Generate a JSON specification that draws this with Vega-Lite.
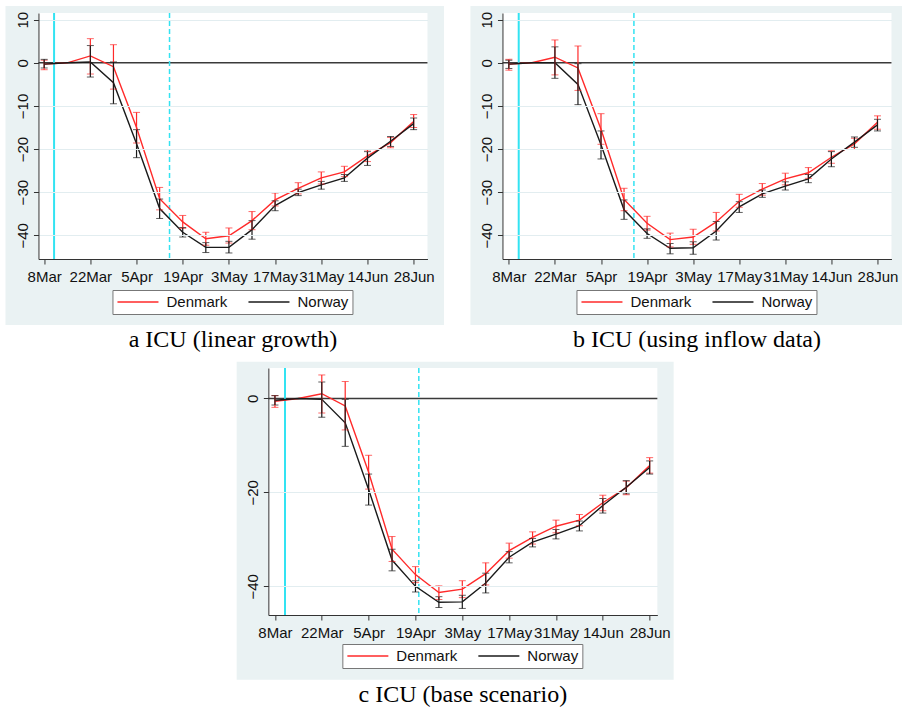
{
"$schema": "https://vega.github.io/schema/vega-lite/v6.json",
"padding": {"left": 5, "top": 6, "right": 0, "bottom": 0},
"background": "white",
"datasets": {
"a": [
{"country":"Denmark","date":"2020-03-08","value":-0.3,"lo":-1.6,"hi":0.6},
{"country":"Denmark","date":"2020-03-15","value":0,"lo":null,"hi":null},
{"country":"Denmark","date":"2020-03-22","value":1.6,"lo":-2.6,"hi":5.6},
{"country":"Denmark","date":"2020-03-29","value":-0.9,"lo":-6.1,"hi":4.2},
{"country":"Denmark","date":"2020-04-05","value":-15.0,"lo":-18.6,"hi":-11.5},
{"country":"Denmark","date":"2020-04-12","value":-31.5,"lo":-34.1,"hi":-28.9},
{"country":"Denmark","date":"2020-04-19","value":-36.9,"lo":-38.4,"hi":-35.4},
{"country":"Denmark","date":"2020-04-26","value":-40.8,"lo":-42.3,"hi":-39.3},
{"country":"Denmark","date":"2020-05-03","value":-40.1,"lo":-41.8,"hi":-38.3},
{"country":"Denmark","date":"2020-05-10","value":-36.6,"lo":-38.7,"hi":-34.5},
{"country":"Denmark","date":"2020-05-17","value":-31.8,"lo":-33.2,"hi":-30.2},
{"country":"Denmark","date":"2020-05-24","value":-29.1,"lo":-30.4,"hi":-27.8},
{"country":"Denmark","date":"2020-05-31","value":-26.7,"lo":-28.1,"hi":-25.3},
{"country":"Denmark","date":"2020-06-07","value":-25.3,"lo":-26.4,"hi":-24.0},
{"country":"Denmark","date":"2020-06-14","value":-21.6,"lo":-22.9,"hi":-20.2},
{"country":"Denmark","date":"2020-06-21","value":-18.5,"lo":-19.7,"hi":-17.3},
{"country":"Denmark","date":"2020-06-28","value":-13.6,"lo":-15.0,"hi":-12.0},
{"country":"Norway","date":"2020-03-08","value":-0.3,"lo":-1.2,"hi":0.8},
{"country":"Norway","date":"2020-03-15","value":0,"lo":null,"hi":null},
{"country":"Norway","date":"2020-03-22","value":0.2,"lo":-3.3,"hi":4.0},
{"country":"Norway","date":"2020-03-29","value":-4.6,"lo":-9.5,"hi":0.2},
{"country":"Norway","date":"2020-04-05","value":-18.8,"lo":-22.0,"hi":-15.5},
{"country":"Norway","date":"2020-04-12","value":-33.8,"lo":-36.1,"hi":-31.6},
{"country":"Norway","date":"2020-04-19","value":-39.3,"lo":-40.4,"hi":-38.2},
{"country":"Norway","date":"2020-04-26","value":-42.8,"lo":-44.0,"hi":-41.7},
{"country":"Norway","date":"2020-05-03","value":-42.8,"lo":-44.1,"hi":-41.4},
{"country":"Norway","date":"2020-05-10","value":-38.7,"lo":-40.9,"hi":-36.6},
{"country":"Norway","date":"2020-05-17","value":-33.1,"lo":-34.3,"hi":-32.0},
{"country":"Norway","date":"2020-05-24","value":-30.1,"lo":-30.8,"hi":-29.3},
{"country":"Norway","date":"2020-05-31","value":-28.3,"lo":-29.3,"hi":-27.5},
{"country":"Norway","date":"2020-06-07","value":-26.7,"lo":-27.5,"hi":-25.9},
{"country":"Norway","date":"2020-06-14","value":-22.1,"lo":-23.8,"hi":-20.6},
{"country":"Norway","date":"2020-06-21","value":-18.2,"lo":-19.4,"hi":-17.1},
{"country":"Norway","date":"2020-06-28","value":-14.1,"lo":-15.5,"hi":-12.8}
],
"b": [
{"country":"Denmark","date":"2020-03-08","value":-0.3,"lo":-1.7,"hi":0.8},
{"country":"Denmark","date":"2020-03-15","value":0,"lo":null,"hi":null},
{"country":"Denmark","date":"2020-03-22","value":1.3,"lo":-2.8,"hi":5.3},
{"country":"Denmark","date":"2020-03-29","value":-1.2,"lo":-6.4,"hi":3.9},
{"country":"Denmark","date":"2020-04-05","value":-15.4,"lo":-18.9,"hi":-11.8},
{"country":"Denmark","date":"2020-04-12","value":-31.7,"lo":-34.3,"hi":-29.1},
{"country":"Denmark","date":"2020-04-19","value":-37.2,"lo":-38.8,"hi":-35.6},
{"country":"Denmark","date":"2020-04-26","value":-41.0,"lo":-42.7,"hi":-39.5},
{"country":"Denmark","date":"2020-05-03","value":-40.4,"lo":-42.1,"hi":-38.6},
{"country":"Denmark","date":"2020-05-10","value":-36.9,"lo":-39.0,"hi":-34.7},
{"country":"Denmark","date":"2020-05-17","value":-32.1,"lo":-33.5,"hi":-30.5},
{"country":"Denmark","date":"2020-05-24","value":-29.3,"lo":-30.7,"hi":-28.0},
{"country":"Denmark","date":"2020-05-31","value":-26.9,"lo":-28.3,"hi":-25.6},
{"country":"Denmark","date":"2020-06-07","value":-25.5,"lo":-26.8,"hi":-24.3},
{"country":"Denmark","date":"2020-06-14","value":-21.9,"lo":-23.3,"hi":-20.4},
{"country":"Denmark","date":"2020-06-21","value":-18.8,"lo":-20.1,"hi":-17.5},
{"country":"Denmark","date":"2020-06-28","value":-13.8,"lo":-15.4,"hi":-12.3},
{"country":"Norway","date":"2020-03-08","value":-0.3,"lo":-1.3,"hi":0.6},
{"country":"Norway","date":"2020-03-15","value":0,"lo":null,"hi":null},
{"country":"Norway","date":"2020-03-22","value":0.0,"lo":-3.6,"hi":3.7},
{"country":"Norway","date":"2020-03-29","value":-5.0,"lo":-9.7,"hi":-0.2},
{"country":"Norway","date":"2020-04-05","value":-19.0,"lo":-22.3,"hi":-15.8},
{"country":"Norway","date":"2020-04-12","value":-34.1,"lo":-36.3,"hi":-31.8},
{"country":"Norway","date":"2020-04-19","value":-39.6,"lo":-40.7,"hi":-38.5},
{"country":"Norway","date":"2020-04-26","value":-43.0,"lo":-44.3,"hi":-41.9},
{"country":"Norway","date":"2020-05-03","value":-42.9,"lo":-44.4,"hi":-41.5},
{"country":"Norway","date":"2020-05-10","value":-39.0,"lo":-41.1,"hi":-36.8},
{"country":"Norway","date":"2020-05-17","value":-33.4,"lo":-34.7,"hi":-32.2},
{"country":"Norway","date":"2020-05-24","value":-30.4,"lo":-31.2,"hi":-29.5},
{"country":"Norway","date":"2020-05-31","value":-28.6,"lo":-29.5,"hi":-27.6},
{"country":"Norway","date":"2020-06-07","value":-26.9,"lo":-27.8,"hi":-25.9},
{"country":"Norway","date":"2020-06-14","value":-22.3,"lo":-24.1,"hi":-20.6},
{"country":"Norway","date":"2020-06-21","value":-18.4,"lo":-19.6,"hi":-17.2},
{"country":"Norway","date":"2020-06-28","value":-14.4,"lo":-15.8,"hi":-13.1}
],
"c": [
{"country":"Denmark","date":"2020-03-08","value":-0.6,"lo":-1.9,"hi":0.6},
{"country":"Denmark","date":"2020-03-15","value":0,"lo":null,"hi":null},
{"country":"Denmark","date":"2020-03-22","value":1.0,"lo":-3.1,"hi":5.0},
{"country":"Denmark","date":"2020-03-29","value":-1.6,"lo":-6.7,"hi":3.6},
{"country":"Denmark","date":"2020-04-05","value":-15.7,"lo":-19.3,"hi":-12.1},
{"country":"Denmark","date":"2020-04-12","value":-32.1,"lo":-34.7,"hi":-29.4},
{"country":"Denmark","date":"2020-04-19","value":-37.5,"lo":-39.2,"hi":-35.8},
{"country":"Denmark","date":"2020-04-26","value":-41.3,"lo":-42.8,"hi":-39.9},
{"country":"Denmark","date":"2020-05-03","value":-40.6,"lo":-42.4,"hi":-38.8},
{"country":"Denmark","date":"2020-05-10","value":-37.3,"lo":-39.7,"hi":-35.0},
{"country":"Denmark","date":"2020-05-17","value":-32.4,"lo":-34.0,"hi":-30.8},
{"country":"Denmark","date":"2020-05-24","value":-29.6,"lo":-31.0,"hi":-28.4},
{"country":"Denmark","date":"2020-05-31","value":-27.2,"lo":-28.6,"hi":-25.9},
{"country":"Denmark","date":"2020-06-07","value":-25.9,"lo":-27.1,"hi":-24.7},
{"country":"Denmark","date":"2020-06-14","value":-22.2,"lo":-23.9,"hi":-20.6},
{"country":"Denmark","date":"2020-06-21","value":-19.0,"lo":-20.5,"hi":-17.6},
{"country":"Denmark","date":"2020-06-28","value":-14.3,"lo":-15.9,"hi":-12.6},
{"country":"Norway","date":"2020-03-08","value":-0.4,"lo":-1.4,"hi":0.6},
{"country":"Norway","date":"2020-03-15","value":0,"lo":null,"hi":null},
{"country":"Norway","date":"2020-03-22","value":-0.2,"lo":-4.0,"hi":3.5},
{"country":"Norway","date":"2020-03-29","value":-5.2,"lo":-10.2,"hi":-0.2},
{"country":"Norway","date":"2020-04-05","value":-19.4,"lo":-22.7,"hi":-16.1},
{"country":"Norway","date":"2020-04-12","value":-34.4,"lo":-36.7,"hi":-32.1},
{"country":"Norway","date":"2020-04-19","value":-40.0,"lo":-41.2,"hi":-38.8},
{"country":"Norway","date":"2020-04-26","value":-43.4,"lo":-44.5,"hi":-42.2},
{"country":"Norway","date":"2020-05-03","value":-43.3,"lo":-44.7,"hi":-41.9},
{"country":"Norway","date":"2020-05-10","value":-39.3,"lo":-41.4,"hi":-37.2},
{"country":"Norway","date":"2020-05-17","value":-33.8,"lo":-35.0,"hi":-32.6},
{"country":"Norway","date":"2020-05-24","value":-30.6,"lo":-31.6,"hi":-29.8},
{"country":"Norway","date":"2020-05-31","value":-28.9,"lo":-29.9,"hi":-27.9},
{"country":"Norway","date":"2020-06-07","value":-27.1,"lo":-28.2,"hi":-26.1},
{"country":"Norway","date":"2020-06-14","value":-22.8,"lo":-24.4,"hi":-21.3},
{"country":"Norway","date":"2020-06-21","value":-18.9,"lo":-20.3,"hi":-17.5},
{"country":"Norway","date":"2020-06-28","value":-14.7,"lo":-16.1,"hi":-13.3}
]
},
"resolve": {"scale": {"color": "independent"}, "legend": {"color": "independent"}},
"center": true,
"spacing": 9,
"vconcat": [
{
"spacing": 25,
"resolve": {"scale": {"color": "independent"}, "legend": {"color": "independent"}},
"hconcat": [
{
"width": 389, "height": 246,
"data": {"name": "a"},
"title": {"text": "a ICU (linear growth)"},
"layer": [
{"data": {"values": [{}]}, "mark": {"type": "rect", "fill": "#eaf2f3", "clip": false},
 "encoding": {
  "x": {"datum": {"year": 2020, "month": 2, "date": 25, "hours": 6, "minutes": 30, "utc": true}, "type": "temporal", "title": null},
  "x2": {"datum": {"year": 2020, "month": 7, "date": 7, "hours": 4, "minutes": 30, "utc": true}},
  "y": {"datum": 13.17, "type": "quantitative", "title": null},
  "y2": {"datum": -60.8}}},
{"data": {"values": [{}]}, "mark": {"type": "rect", "fill": "white", "clip": false},
 "encoding": {
  "x": {"datum": {"year": 2020, "month": 3, "date": 6, "hours": 6, "minutes": 30, "utc": true}, "type": "temporal", "title": null},
  "x2": {"datum": {"year": 2020, "month": 7, "date": 2, "hours": 4, "minutes": 30, "utc": true}},
  "y": {"datum": 11.55, "type": "quantitative", "title": null},
  "y2": {"datum": -45.5}}},
{"data": {"values": [{}]}, "mark": {"type": "rule", "color": "#3a3a3a", "strokeWidth": 1.5},
 "encoding": {"y": {"datum": 0, "type": "quantitative", "title": null}}},
{"data": {"values": [{}]}, "mark": {"type": "rule", "color": "#33e3f2", "strokeWidth": 2},
 "encoding": {"x": {"datum": {"year": 2020, "month": 3, "date": 11, "utc": true}, "type": "temporal", "title": null}}},
{"data": {"values": [{}]}, "mark": {"type": "rule", "color": "#33e3f2", "strokeWidth": 1.5, "strokeDash": [5, 3]},
 "encoding": {"x": {"datum": {"year": 2020, "month": 4, "date": 15, "utc": true}, "type": "temporal", "title": null}}},
{"mark": {"type": "line", "strokeWidth": 1.4},
 "encoding": {
  "x": {"field": "date", "type": "temporal", "title": null,
   "scale": {"type": "utc", "domain": [{"year": 2020, "month": 3, "date": 6, "hours": 6, "minutes": 30, "utc": true}, {"year": 2020, "month": 7, "date": 2, "hours": 4, "minutes": 30, "utc": true}]},
   "axis": {"zindex": 1, "format": "%-d%b", "labelOverlap": false, "labelFlush": false, "values": [
    {"year": 2020, "month": 3, "date": 8, "utc": true}, {"year": 2020, "month": 3, "date": 22, "utc": true},
    {"year": 2020, "month": 4, "date": 5, "utc": true}, {"year": 2020, "month": 4, "date": 19, "utc": true},
    {"year": 2020, "month": 5, "date": 3, "utc": true}, {"year": 2020, "month": 5, "date": 17, "utc": true},
    {"year": 2020, "month": 5, "date": 31, "utc": true}, {"year": 2020, "month": 6, "date": 14, "utc": true},
    {"year": 2020, "month": 6, "date": 28, "utc": true}]}},
  "y": {"field": "value", "type": "quantitative", "title": null,
   "scale": {"domain": [-45.5, 11.55], "nice": false, "zero": false},
   "axis": {"zindex": 1, "values": [-40, -30, -20, -10, 0, 10], "gridOpacity": {"condition": {"test": "datum.value === 0", "value": 0}, "value": 1}}},
  "color": {"field": "country", "type": "nominal",
   "scale": {"domain": ["Denmark", "Norway"], "range": ["#ff2a2a", "#1a1a1a"]},
   "legend": {"orient": "none", "legendX": 74, "legendY": 277}}}},
{"transform": [{"filter": "isValid(datum.lo)"}],
 "mark": {"type": "errorbar", "ticks": {"size": 7}, "rule": {"strokeWidth": 1.2}},
 "encoding": {
  "x": {"field": "date", "type": "temporal", "title": null},
  "y": {"field": "lo", "type": "quantitative", "title": null},
  "y2": {"field": "hi"},
  "color": {"field": "country", "type": "nominal", "legend": null}}}
]
},
{
"width": 389, "height": 246,
"data": {"name": "b"},
"title": {"text": "b ICU (using inflow data)"},
"layer": [
{"data": {"values": [{}]}, "mark": {"type": "rect", "fill": "#eaf2f3", "clip": false},
 "encoding": {
  "x": {"datum": {"year": 2020, "month": 2, "date": 25, "hours": 8, "utc": true}, "type": "temporal", "title": null},
  "x2": {"datum": {"year": 2020, "month": 7, "date": 5, "hours": 22, "utc": true}},
  "y": {"datum": 13.17, "type": "quantitative", "title": null},
  "y2": {"datum": -60.8}}},
{"data": {"values": [{}]}, "mark": {"type": "rect", "fill": "white", "clip": false},
 "encoding": {
  "x": {"datum": {"year": 2020, "month": 3, "date": 6, "hours": 1, "minutes": 30, "utc": true}, "type": "temporal", "title": null},
  "x2": {"datum": {"year": 2020, "month": 7, "date": 2, "hours": 6, "utc": true}},
  "y": {"datum": 11.55, "type": "quantitative", "title": null},
  "y2": {"datum": -45.5}}},
{"data": {"values": [{}]}, "mark": {"type": "rule", "color": "#3a3a3a", "strokeWidth": 1.5},
 "encoding": {"y": {"datum": 0, "type": "quantitative", "title": null}}},
{"data": {"values": [{}]}, "mark": {"type": "rule", "color": "#33e3f2", "strokeWidth": 2},
 "encoding": {"x": {"datum": {"year": 2020, "month": 3, "date": 11, "utc": true}, "type": "temporal", "title": null}}},
{"data": {"values": [{}]}, "mark": {"type": "rule", "color": "#33e3f2", "strokeWidth": 1.5, "strokeDash": [5, 3]},
 "encoding": {"x": {"datum": {"year": 2020, "month": 4, "date": 15, "utc": true}, "type": "temporal", "title": null}}},
{"mark": {"type": "line", "strokeWidth": 1.4},
 "encoding": {
  "x": {"field": "date", "type": "temporal", "title": null,
   "scale": {"type": "utc", "domain": [{"year": 2020, "month": 3, "date": 6, "hours": 1, "minutes": 30, "utc": true}, {"year": 2020, "month": 7, "date": 2, "hours": 6, "utc": true}]},
   "axis": {"zindex": 1, "format": "%-d%b", "labelOverlap": false, "labelFlush": false, "values": [
    {"year": 2020, "month": 3, "date": 8, "utc": true}, {"year": 2020, "month": 3, "date": 22, "utc": true},
    {"year": 2020, "month": 4, "date": 5, "utc": true}, {"year": 2020, "month": 4, "date": 19, "utc": true},
    {"year": 2020, "month": 5, "date": 3, "utc": true}, {"year": 2020, "month": 5, "date": 17, "utc": true},
    {"year": 2020, "month": 5, "date": 31, "utc": true}, {"year": 2020, "month": 6, "date": 14, "utc": true},
    {"year": 2020, "month": 6, "date": 28, "utc": true}]}},
  "y": {"field": "value", "type": "quantitative", "title": null,
   "scale": {"domain": [-45.5, 11.55], "nice": false, "zero": false},
   "axis": {"zindex": 1, "values": [-40, -30, -20, -10, 0, 10], "gridOpacity": {"condition": {"test": "datum.value === 0", "value": 0}, "value": 1}}},
  "color": {"field": "country", "type": "nominal",
   "scale": {"domain": ["Denmark", "Norway"], "range": ["#ff2a2a", "#1a1a1a"]},
   "legend": {"orient": "none", "legendX": 74, "legendY": 277}}}},
{"transform": [{"filter": "isValid(datum.lo)"}],
 "mark": {"type": "errorbar", "ticks": {"size": 7}, "rule": {"strokeWidth": 1.2}},
 "encoding": {
  "x": {"field": "date", "type": "temporal", "title": null},
  "y": {"field": "lo", "type": "quantitative", "title": null},
  "y2": {"field": "hi"},
  "color": {"field": "country", "type": "nominal", "legend": null}}}
]
}
]
},
{
"width": 389, "height": 247,
"data": {"name": "c"},
"title": {"text": "c ICU (base scenario)"},
"layer": [
{"data": {"values": [{}]}, "mark": {"type": "rect", "fill": "#eaf2f3", "clip": false},
 "encoding": {
  "x": {"datum": {"year": 2020, "month": 2, "date": 25, "hours": 13, "minutes": 30, "utc": true}, "type": "temporal", "title": null},
  "x2": {"datum": {"year": 2020, "month": 7, "date": 5, "hours": 4, "utc": true}},
  "y": {"datum": 7.8, "type": "quantitative", "title": null},
  "y2": {"datum": -59.9}}},
{"data": {"values": [{}]}, "mark": {"type": "rect", "fill": "white", "clip": false},
 "encoding": {
  "x": {"datum": {"year": 2020, "month": 3, "date": 6, "hours": 0, "minutes": 45, "utc": true}, "type": "temporal", "title": null},
  "x2": {"datum": {"year": 2020, "month": 6, "date": 30, "hours": 7, "minutes": 12, "utc": true}},
  "y": {"datum": 6.48, "type": "quantitative", "title": null},
  "y2": {"datum": -46.1}}},
{"data": {"values": [{}]}, "mark": {"type": "rule", "color": "#3a3a3a", "strokeWidth": 1.5},
 "encoding": {"y": {"datum": 0, "type": "quantitative", "title": null}}},
{"data": {"values": [{}]}, "mark": {"type": "rule", "color": "#33e3f2", "strokeWidth": 2},
 "encoding": {"x": {"datum": {"year": 2020, "month": 3, "date": 11, "utc": true}, "type": "temporal", "title": null}}},
{"data": {"values": [{}]}, "mark": {"type": "rule", "color": "#33e3f2", "strokeWidth": 1.5, "strokeDash": [5, 3]},
 "encoding": {"x": {"datum": {"year": 2020, "month": 4, "date": 20, "utc": true}, "type": "temporal", "title": null}}},
{"mark": {"type": "line", "strokeWidth": 1.4},
 "encoding": {
  "x": {"field": "date", "type": "temporal", "title": null,
   "scale": {"type": "utc", "domain": [{"year": 2020, "month": 3, "date": 6, "hours": 0, "minutes": 45, "utc": true}, {"year": 2020, "month": 6, "date": 30, "hours": 7, "minutes": 12, "utc": true}]},
   "axis": {"zindex": 1, "format": "%-d%b", "labelOverlap": false, "labelFlush": false, "values": [
    {"year": 2020, "month": 3, "date": 8, "utc": true}, {"year": 2020, "month": 3, "date": 22, "utc": true},
    {"year": 2020, "month": 4, "date": 5, "utc": true}, {"year": 2020, "month": 4, "date": 19, "utc": true},
    {"year": 2020, "month": 5, "date": 3, "utc": true}, {"year": 2020, "month": 5, "date": 17, "utc": true},
    {"year": 2020, "month": 5, "date": 31, "utc": true}, {"year": 2020, "month": 6, "date": 14, "utc": true},
    {"year": 2020, "month": 6, "date": 28, "utc": true}]}},
  "y": {"field": "value", "type": "quantitative", "title": null,
   "scale": {"domain": [-46.1, 6.48], "nice": false, "zero": false},
   "axis": {"zindex": 1, "values": [-40, -20, 0], "gridOpacity": {"condition": {"test": "datum.value === 0", "value": 0}, "value": 1}}},
  "color": {"field": "country", "type": "nominal",
   "scale": {"domain": ["Denmark", "Norway"], "range": ["#ff2a2a", "#1a1a1a"]},
   "legend": {"orient": "none", "legendX": 74, "legendY": 276}}}},
{"transform": [{"filter": "isValid(datum.lo)"}],
 "mark": {"type": "errorbar", "ticks": {"size": 7}, "rule": {"strokeWidth": 1.2}},
 "encoding": {
  "x": {"field": "date", "type": "temporal", "title": null},
  "y": {"field": "lo", "type": "quantitative", "title": null},
  "y2": {"field": "hi"},
  "color": {"field": "country", "type": "nominal", "legend": null}}}
]
}
],
"config": {
 "font": "Liberation Sans",
 "view": {"stroke": null, "fill": "white"},
 "axis": {"labelFont": "Liberation Sans", "labelFontSize": 15, "labelColor": "#111111", "domainColor": "#333333", "tickColor": "#333333", "tickSize": 5, "gridColor": "#e2edf0", "gridWidth": 1},
 "axisX": {"grid": false, "labelPadding": 5},
 "axisY": {"grid": true, "labelAngle": 270, "labelAlign": "center", "labelBaseline": "bottom", "labelPadding": 3},
 "legend": {"zindex": 1, "direction": "horizontal", "columns": 2, "title": null, "symbolType": "stroke", "symbolSize": 1681, "clipHeight": 16, "symbolStrokeWidth": 1.5, "labelFont": "Liberation Sans", "labelFontSize": 15, "labelColor": "#111111", "labelOffset": 7, "columnPadding": 20, "padding": 4, "fillColor": "white", "strokeColor": "#777777"},
 "title": {"orient": "bottom", "anchor": "middle", "font": "Liberation Serif", "fontSize": 24, "fontWeight": "normal", "color": "#000000", "offset": 3}
}
}
